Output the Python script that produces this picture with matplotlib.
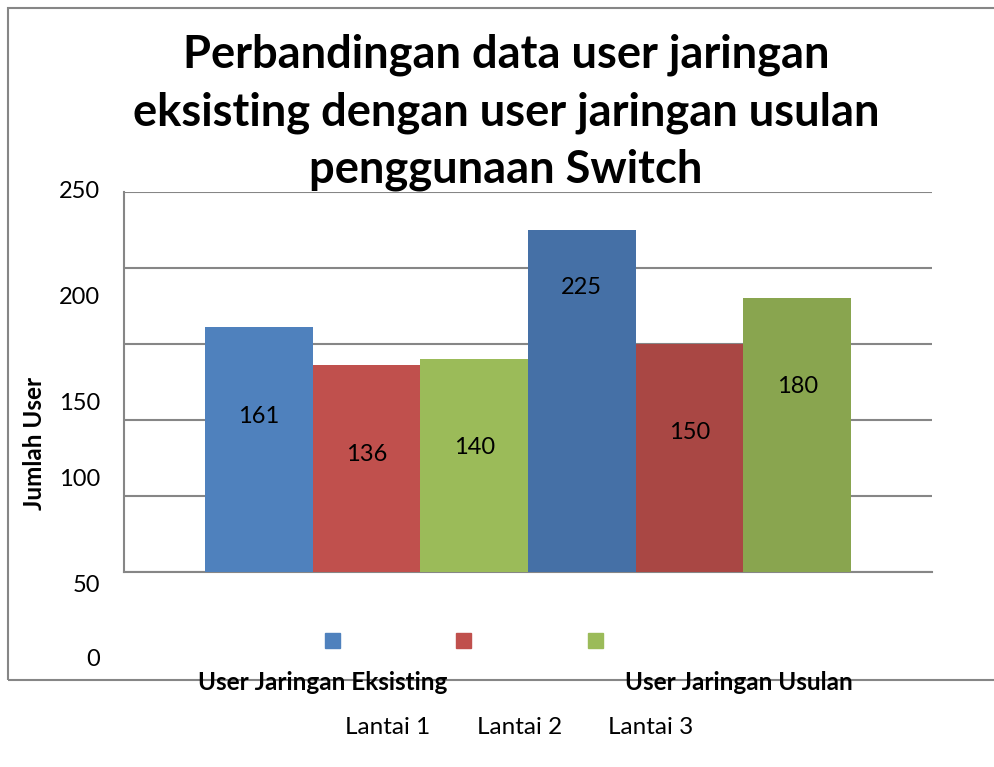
import matplotlib
matplotlib.use("Agg")
import matplotlib.pyplot as plt
import numpy as np
from matplotlib.patches import Rectangle

# data
groups = ["User Jaringan Eksisting", "User Jaringan Usulan"]
floors = ["Lantai 1", "Lantai 2", "Lantai 3"]
eksisting = [161, 136, 140]
usulan = [225, 150, 180]
tick_labels = ["250", "200", "150", "100", "50", "0"]
# where excel put the value labels (data units, it is a bit off)
label_y_eks = [102, 77, 82]
label_y_usl = [187, 92, 122]

col_eks = ["#4F81BD", "#C0504D", "#9BBB59"]
col_usl = ["#4570A6", "#A94744", "#89A54F"]

plt.rcParams["font.family"] = ["Lato", "DejaVu Sans"]

W, H = 994, 767
fig = plt.figure(figsize=(W / 100, H / 100), dpi=100)

def fx(px):
    return px / W

def fy(py):
    return 1 - py / H

# outer frame (right side runs off the picture)
frame = Rectangle((fx(8), fy(680)), fx(1100), fy(8) - fy(680), transform=fig.transFigure,
                  fill=False, edgecolor="#868686", linewidth=1.5)
fig.patches.append(frame)

ax = fig.add_axes([fx(124), fy(572), fx(932) - fx(124), fy(192) - fy(572)])
ax.set_xlim(-0.75, 1.75)
ax.set_ylim(0, 250)

w = 1 / 3
x = np.arange(len(groups))
for i in range(len(floors)):
    vals = [eksisting[i], usulan[i]]
    cols = [col_eks[i], col_usl[i]]
    ax.bar(x + (i - 1) * w, vals, width=w, color=cols, zorder=3)
    for j, ly in enumerate([label_y_eks[i], label_y_usl[i]]):
        ax.text(x[j] + (i - 1) * w, ly, str(vals[j]), ha="center", va="center",
                fontsize=17, color="black", zorder=4)

ax.set_yticks(range(0, 251, 50))
ax.yaxis.grid(True, color="#868686", linewidth=1.5, zorder=0)
ax.set_yticklabels([])
ax.set_xticks([])
ax.tick_params(left=False, bottom=False)
for s in ["top", "right"]:
    ax.spines[s].set_visible(False)
for s in ["left", "bottom"]:
    ax.spines[s].set_color("#868686")
    ax.spines[s].set_linewidth(1.5)

# tick labels as excel drew them (not on the gridlines)
tick_px = [192, 297, 403, 480, 585, 660]
for t, p in zip(tick_labels, tick_px):
    fig.text(fx(100), fy(p), t, ha="right", va="center", fontsize=17)

fig.text(fx(35), fy(443), "Jumlah User", rotation=90, ha="center", va="center",
         fontsize=17.5, fontweight="bold")

# title
title_lines = ["Perbandingan data user jaringan",
               "eksisting dengan user jaringan usulan",
               "penggunaan Switch"]
for line, p in zip(title_lines, [55, 113, 170]):
    fig.text(fx(506), fy(p), line, ha="center", va="center", fontsize=32.6, fontweight="bold")

# category labels
fig.text(fx(323), fy(683), groups[0], ha="center", va="center", fontsize=17.5, fontweight="bold")
fig.text(fx(739), fy(683), groups[1], ha="center", va="center", fontsize=17.5, fontweight="bold")

# legend, squares and names are split apart like in the original
for i, (c, sx, lx) in enumerate(zip(col_eks, [325, 456, 588], [388, 520, 651])):
    fig.patches.append(Rectangle((fx(sx), fy(648)), fx(15), fy(633) - fy(648),
                                 transform=fig.transFigure, color=c))
    fig.text(fx(lx), fy(728), floors[i], ha="center", va="center", fontsize=17.5)

fig.savefig("out.png", dpi=100)
